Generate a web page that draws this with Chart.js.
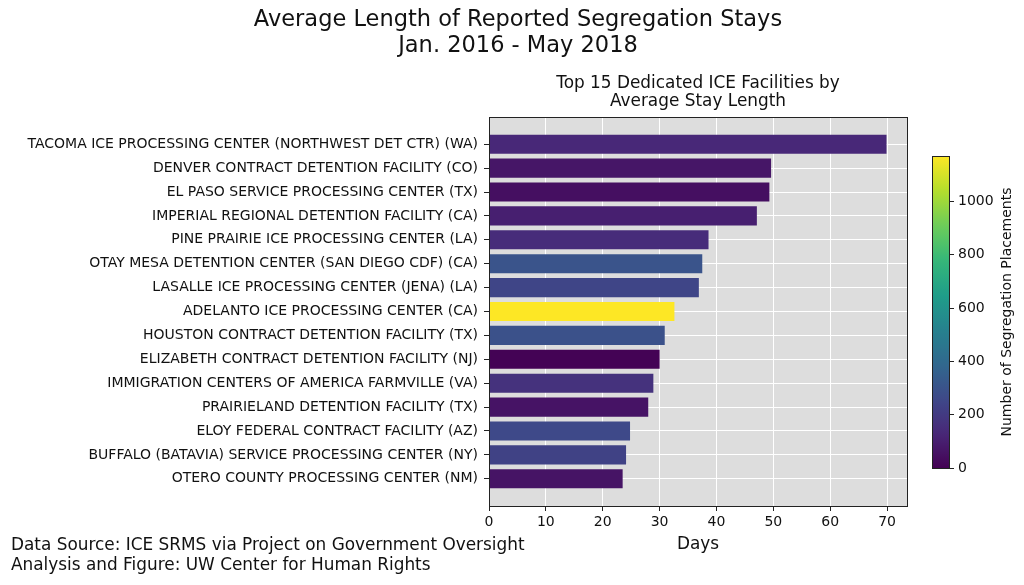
<!DOCTYPE html>
<html>
<head>
  <title>Average Length of Reported Segregation Stays</title>
  <script src="https://cdn.jsdelivr.net/npm/chart.js"></script>
  <style>
    body { margin: 0; background: #ffffff; }
    #wrap { position: relative; width: 1024px; height: 585px; }
    #mainChart { position: absolute; left: 0; top: 0; }
    #barChart { position: absolute; left: 900px; top: 0; }
  </style>
</head>
<body>
<div id="wrap">
  <canvas id="mainChart" width="1024" height="585"></canvas>
  <canvas id="barChart" width="124" height="585"></canvas>
</div>

<script>
  // facilities, top to bottom
  const facilities = [
    'TACOMA ICE PROCESSING CENTER (NORTHWEST DET CTR) (WA)',
    'DENVER CONTRACT DETENTION FACILITY (CO)',
    'EL PASO SERVICE PROCESSING CENTER (TX)',
    'IMPERIAL REGIONAL DETENTION FACILITY (CA)',
    'PINE PRAIRIE ICE PROCESSING CENTER (LA)',
    'OTAY MESA DETENTION CENTER (SAN DIEGO CDF) (CA)',
    'LASALLE ICE PROCESSING CENTER (JENA) (LA)',
    'ADELANTO ICE PROCESSING CENTER (CA)',
    'HOUSTON CONTRACT DETENTION FACILITY (TX)',
    'ELIZABETH CONTRACT DETENTION FACILITY (NJ)',
    'IMMIGRATION CENTERS OF AMERICA FARMVILLE (VA)',
    'PRAIRIELAND DETENTION FACILITY (TX)',
    'ELOY FEDERAL CONTRACT FACILITY (AZ)',
    'BUFFALO (BATAVIA) SERVICE PROCESSING CENTER (NY)',
    'OTERO COUNTY PROCESSING CENTER (NM)'
  ];
  const avgDays = [69.9, 49.6, 49.3, 47.1, 38.6, 37.5, 36.9, 32.6, 30.9, 30.0, 28.9, 28.0, 24.8, 24.1, 23.5];
  const placements = [130, 70, 47, 100, 146, 305, 245, 1170, 295, 5, 170, 60, 262, 232, 62];
  const dayTicks = [0, 10, 20, 30, 40, 50, 60, 70];
  const placementTicks = [0, 200, 400, 600, 800, 1000];
  const placementMax = 1170;

  const viridisStops = ['#440154', '#482878', '#3e4989', '#31688e', '#26828e',
                        '#1f9e89', '#35b779', '#6dcd59', '#b4de2c', '#fde725'];

  function hexRgb(h) {
    return [parseInt(h.substr(1, 2), 16), parseInt(h.substr(3, 2), 16), parseInt(h.substr(5, 2), 16)];
  }
  function viridis(t) {
    t = Math.max(0, Math.min(1, t));
    const p = t * (viridisStops.length - 1);
    const i = Math.min(Math.floor(p), viridisStops.length - 2);
    const f = p - i;
    const a = hexRgb(viridisStops[i]), b = hexRgb(viridisStops[i + 1]);
    const c = a.map((v, k) => Math.round(v + (b[k] - v) * f));
    return 'rgb(' + c.join(',') + ')';
  }

  const FONT = 'DejaVu Sans';
  Chart.defaults.font.family = FONT;
  Chart.defaults.color = '#111';

  // plot background, full frame and free text
  const frame = {
    id: 'frame',
    beforeDraw(chart) {
      const a = chart.chartArea, ctx = chart.ctx;
      ctx.save();
      ctx.fillStyle = '#dddddd';
      ctx.fillRect(a.left, a.top, a.right - a.left, a.bottom - a.top);
      ctx.restore();
    },
    afterDraw(chart) {
      const a = chart.chartArea, ctx = chart.ctx;
      ctx.save();
      ctx.strokeStyle = '#222';
      ctx.lineWidth = 1;
      ctx.strokeRect(Math.round(a.left) + 0.5, Math.round(a.top) + 0.5,
                     Math.round(a.right - a.left), Math.round(a.bottom - a.top));
      ctx.fillStyle = '#111';
      ctx.textBaseline = 'middle';
      ctx.textAlign = 'center';
      ctx.font = '22.5px "' + FONT + '"';
      ctx.fillText('Average Length of Reported Segregation Stays', 518, 20);
      ctx.fillText('Jan. 2016 - May 2018', 518, 46);
      const cx = (a.left + a.right) / 2;
      ctx.font = '16.9px "' + FONT + '"';
      ctx.fillText('Top 15 Dedicated ICE Facilities by', cx, 84);
      ctx.fillText('Average Stay Length', cx, 102);
      ctx.textAlign = 'left';
      ctx.fillText('Data Source: ICE SRMS via Project on Government Oversight', 11, 546);
      ctx.fillText('Analysis and Figure: UW Center for Human Rights', 11, 566);
      ctx.restore();
    }
  };

  new Chart(document.getElementById('mainChart'), {
    type: 'bar',
    data: {
      datasets: [{
        data: avgDays.map((v, i) => ({ x: v, y: i })),
        backgroundColor: placements.map(p => viridis(p / placementMax)),
        categoryPercentage: 1,
        barPercentage: 0.8
      }]
    },
    options: {
      indexAxis: 'y',
      responsive: false,
      animation: false,
      layout: { padding: { left: 0, right: 117, top: 117, bottom: 0 } },
      plugins: { legend: { display: false }, tooltip: { enabled: false } },
      scales: {
        y: {
          type: 'linear',
          reverse: true,
          offset: false,
          min: -1.14,
          max: facilities.length - 1 + 1.14,
          afterBuildTicks: s => { s.ticks = facilities.map((_, i) => ({ value: i })); },
          afterFit: s => { s.width = 489; },
          ticks: {
            autoSkip: false,
            padding: 6,
            font: { size: 14 },
            callback: v => facilities[v]
          },
          grid: { offset: false, color: '#ffffff', lineWidth: 1, tickLength: 5, tickColor: '#222' },
          border: { display: true, color: '#222' }
        },
        x: {
          min: 0,
          max: 73.5,
          afterBuildTicks: s => { s.ticks = dayTicks.map(v => ({ value: v })); },
          afterFit: s => { s.height = 79; },
          ticks: { padding: 3, font: { size: 14 }, includeBounds: false },
          grid: { color: '#ffffff', lineWidth: 1, tickLength: 5, tickColor: '#222' },
          border: { display: true, color: '#222' },
          title: {
            display: true,
            text: 'Days',
            font: { size: 16.9 },
            color: '#111',
            padding: { top: 0, bottom: 30 }
          }
        }
      }
    },
    plugins: [frame]
  });

  // colour bar for number of placements
  const gradientBar = {
    id: 'gradientBar',
    beforeDraw(chart) {
      const a = chart.chartArea, ctx = chart.ctx;
      const g = ctx.createLinearGradient(0, a.bottom, 0, a.top);
      for (let i = 0; i <= 40; i++) g.addColorStop(i / 40, viridis(i / 40));
      ctx.save();
      ctx.fillStyle = g;
      ctx.fillRect(a.left, a.top, a.right - a.left, a.bottom - a.top);
      ctx.restore();
    },
    afterDraw(chart) {
      const a = chart.chartArea, ctx = chart.ctx;
      ctx.save();
      ctx.strokeStyle = '#222';
      ctx.lineWidth = 1;
      ctx.strokeRect(Math.round(a.left) + 0.5, Math.round(a.top) + 0.5,
                     Math.round(a.right - a.left), Math.round(a.bottom - a.top));
      ctx.translate(107, (a.top + a.bottom) / 2);
      ctx.rotate(-Math.PI / 2);
      ctx.fillStyle = '#111';
      ctx.textAlign = 'center';
      ctx.textBaseline = 'middle';
      ctx.font = '14px "' + FONT + '"';
      ctx.fillText('Number of Segregation Placements', 0, 0);
      ctx.restore();
    }
  };

  new Chart(document.getElementById('barChart'), {
    type: 'bar',
    data: { labels: [''], datasets: [{ data: [] }] },
    options: {
      responsive: false,
      animation: false,
      layout: { padding: { left: 32, right: 0, top: 156, bottom: 117 } },
      plugins: { legend: { display: false }, tooltip: { enabled: false } },
      scales: {
        x: { display: false },
        y: {
          position: 'right',
          min: 0,
          max: placementMax,
          afterBuildTicks: s => { s.ticks = placementTicks.map(v => ({ value: v })); },
          afterFit: s => { s.width = 75; },
          ticks: { padding: 4, font: { size: 14 }, callback: v => String(v) },
          grid: { drawOnChartArea: false, tickLength: 5, tickColor: '#222' },
          border: { display: false }
        }
      }
    },
    plugins: [gradientBar]
  });
</script>
</body>
</html>
